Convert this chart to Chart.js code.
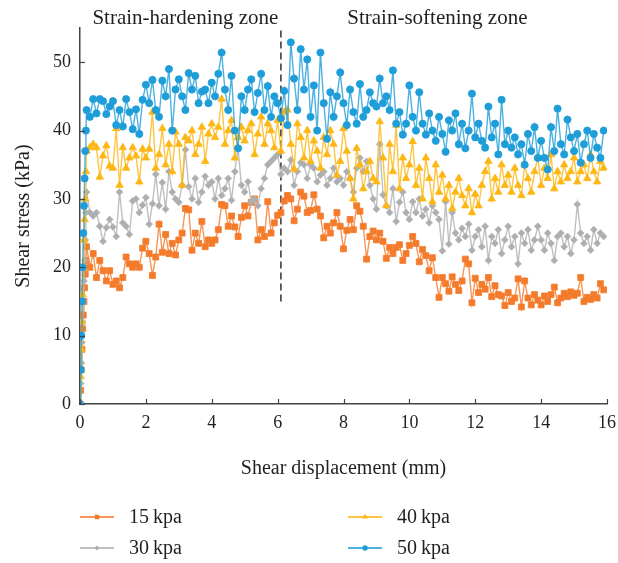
<!DOCTYPE html>
<html>
<head>
<meta charset="utf-8">
<script src="https://cdn.jsdelivr.net/npm/chart.js@4.4.1/dist/chart.umd.min.js"></script>
<style>
  html, body { margin: 0; padding: 0; background: #fff; }
  canvas { display: block; }
</style>
</head>
<body>
<canvas id="shearChart" width="618" height="563"></canvas>
<script>
// Shear stress vs shear displacement, four normal stresses

const displacement = [
  0, 0.02, 0.04, 0.06, 0.08, 0.1, 0.12, 0.14, 0.16, 0.18, 0.2,
  0.3, 0.4, 0.5, 0.6, 0.7, 0.8, 0.9,
  1, 1.1, 1.2, 1.3, 1.4, 1.5, 1.6, 1.7, 1.8, 1.9,
  2, 2.1, 2.2, 2.3, 2.4, 2.5, 2.6, 2.7, 2.8, 2.9,
  3, 3.1, 3.2, 3.3, 3.4, 3.5, 3.6, 3.7, 3.8, 3.9,
  4, 4.1, 4.2, 4.3, 4.4, 4.5, 4.6, 4.7, 4.8, 4.9,
  5, 5.1, 5.2, 5.3, 5.4, 5.5, 5.6, 5.7, 5.8, 5.9,
  6, 6.1, 6.2, 6.3, 6.4, 6.5, 6.6, 6.7, 6.8, 6.9,
  7, 7.1, 7.2, 7.3, 7.4, 7.5, 7.6, 7.7, 7.8, 7.9,
  8, 8.1, 8.2, 8.3, 8.4, 8.5, 8.6, 8.7, 8.8, 8.9,
  9, 9.1, 9.2, 9.3, 9.4, 9.5, 9.6, 9.7, 9.8, 9.9,
  10, 10.1, 10.2, 10.3, 10.4, 10.5, 10.6, 10.7, 10.8, 10.9,
  11, 11.1, 11.2, 11.3, 11.4, 11.5, 11.6, 11.7, 11.8, 11.9,
  12, 12.1, 12.2, 12.3, 12.4, 12.5, 12.6, 12.7, 12.8, 12.9,
  13, 13.1, 13.2, 13.3, 13.4, 13.5, 13.6, 13.7, 13.8, 13.9,
  14, 14.1, 14.2, 14.3, 14.4, 14.5, 14.6, 14.7, 14.8, 14.9,
  15, 15.1, 15.2, 15.3, 15.4, 15.5, 15.6, 15.7, 15.8, 15.9
];

const stress15 = [
  0, 2, 5, 8, 11, 13, 15, 17, 19, 21, 23,
  20, 22, 18.5, 21, 19.5, 18, 19.5,
  17.5, 18, 17, 18.5, 21.5, 20.5, 20, 20.5, 20, 22.8,
  23.8, 22, 18.8, 21.5, 26.3, 22.2, 24.8, 22, 23.5, 21.8,
  24, 25, 28.6, 28.4, 22.5, 25, 23.5, 26.7, 23, 24,
  23.5, 24, 25.5, 29.2, 29, 26, 27.5, 25.9, 24.5, 27.3,
  29, 27.5, 29.5, 30, 24, 25.5, 24.5, 29.6, 25, 26.5,
  27.6, 28, 29.7, 30.5, 30, 26.8, 28.5, 31, 30.4, 28,
  28.3, 30.6, 28.5, 27.5, 24.3, 26, 25, 26.5, 28, 26,
  22.7, 25.4, 27, 25.5, 29, 28.2, 26, 21.2, 24.5, 25.3,
  24, 25, 23.8, 21.3, 22.9, 22, 22.9, 23.3, 21, 22,
  23.2, 24.5, 23.5, 20.8, 22.6, 21.7, 19.5, 21.4, 18.5, 15.6,
  18.5, 17.6, 16.5, 18.6, 17.5, 16.6, 18, 21.2, 20.5, 14.8,
  18.4, 16.3, 17.5, 16.8, 18.5, 15.7, 17.3, 16, 15.8, 14.4,
  16.3, 15, 15.5, 18.3, 14.2, 18, 15.5, 14.5, 16, 15.2,
  14.5, 15.8, 15, 16, 17.1, 14.8, 15.5, 16.2, 15.7, 16.4,
  15.9, 16.2, 18.5, 15, 15.6, 15.3, 16, 15.5, 17.6, 16.7
];

const stress30 = [
  0, 3, 6, 9, 12, 15, 18, 21, 24, 28, 31,
  28, 27.5, 28, 26, 23.8, 25.8, 27,
  25.9, 24.5, 31, 26.5, 26, 24.8, 29.7, 30, 28, 29.1,
  30.2, 26.3, 29.3, 33.6, 29, 32.4, 28.5, 34, 31, 30,
  29.5, 32, 37.2, 31.8, 30, 33, 29.5, 31, 33.3, 32,
  32.5, 30, 33, 30.5, 31.5, 33, 29.8, 34, 37.4, 32,
  31, 32.5, 29.5, 30, 29, 31.5, 33, 35, 35.5, 36,
  36.5, 33.6, 34.5, 34, 35.7, 32, 34, 35.3, 35, 33,
  35, 34.5, 32.5, 33.5, 34, 32, 33, 34.5, 32.5, 33,
  32, 34, 33, 31, 34.5, 36, 34, 35.5, 32, 30,
  28.5, 38, 30.6, 29, 28, 31.5, 26.7, 29.5, 31, 28,
  27, 29.6, 28, 30, 27.5, 28.5, 26.5, 29, 28, 27,
  22.4, 29.6, 23.4, 28, 25, 24, 25.7, 24.5, 26.3, 22.5,
  24.5, 25.5, 23, 26, 21, 24.5, 23.5, 25.5, 22, 24,
  26, 23, 24.5, 20.5, 25, 23.5, 25.5, 22.5, 24, 26,
  24, 22.5, 25, 23.5, 21, 24.5, 25, 23, 24.5, 22,
  24, 29.2, 25, 23.5, 24.5, 22.5, 25.5, 23.5, 25, 24.5
];

const stress40 = [
  0, 4, 8, 12, 16, 20, 24, 27, 30, 34, 37,
  37.5, 38, 37.5, 33.2, 36.3, 37.8, 34.8,
  34.5, 40.3, 32, 37.5, 34.5, 36, 37.5, 36.3, 32.5, 37.3,
  36, 37.3, 42.7, 34.5, 36.5, 40.3, 35, 38, 34, 39.8,
  38, 32, 39, 38.5, 40, 36.5, 38, 40.5, 35.5, 39.5,
  41, 39, 40.5, 44.6, 38, 40, 41.5, 36, 39, 40.5,
  38.5, 40, 41, 36.5, 39.5, 42, 38, 41, 40, 37.5,
  41.5, 37, 42.7, 43, 38, 34.4, 41, 39, 36, 40,
  35.5, 38.5, 37, 34.5, 39, 36.5, 40, 38, 33.5, 35.5,
  40.3, 37, 33, 30, 37.4, 35, 31.5, 34, 35.5, 33,
  32.5, 41.3, 36, 29, 38, 34, 40.8, 31.5, 36, 33,
  35, 38.4, 32, 34.5, 30, 36, 33, 29.6, 35, 31,
  33.5, 30, 32, 28.6, 31, 33, 30.5, 29, 31.5, 28,
  30.7, 29, 32, 34, 35.5, 30, 33, 31, 35, 32,
  33.5, 31, 34.5, 32, 30.5, 35, 33, 31, 34, 36,
  32, 34.5, 33, 36.5, 31.5, 34, 32.5, 35, 33, 34,
  36, 32.5, 34, 35, 33, 36.5, 34, 32.5, 35.5, 34.5
];

const stress50 = [
  0, 5, 10, 15, 20, 25, 29, 33, 37, 40, 43,
  42, 44.6, 42.5, 44.6, 44.3, 42.4, 43.5,
  44.3, 40.8, 43, 40.6, 44.6, 42.7, 40.2, 43.1, 39.5, 44.5,
  46.7, 44, 47.4, 43, 42, 47.3, 45, 49, 40, 46,
  47.5, 45, 43, 48.4, 46, 48, 44, 45.7, 46, 44,
  47, 45, 48.3, 51.4, 46, 43, 48, 40, 37.4, 45,
  43, 46, 47.5, 42.7, 45.5, 48.3, 43, 46.5, 42, 45,
  44, 41.8, 45.8, 40.8, 52.9, 47.6, 43, 51.9, 46, 50.4,
  42, 46.6, 40, 51.4, 44, 38.8, 45.6, 42, 45, 48.5,
  44, 40.8, 46, 42.7, 41, 46.8, 42, 43, 45.6, 44,
  43.5, 47.6, 44, 45, 43, 48.8, 41, 42.7, 39.4, 41,
  46.6, 42, 40, 45.6, 41, 39.4, 42.5, 40, 38.5, 42,
  39.5, 36.9, 41.5, 40, 42.5, 38, 41, 37.4, 40, 45.4,
  39, 41, 38.5, 37.5, 43.5, 39, 41, 36.5, 44.5, 38,
  40, 37.5, 39, 36.5, 38, 35, 39.5, 37, 40.5, 36,
  38.5, 36, 34.3, 40.5, 37, 43.2, 38, 36.5, 41.6, 39,
  37, 39.5, 35.3, 38, 40, 36, 39.5, 37.5, 36, 40
];

const seriesNames = ["15\u2009kpa", "30\u2009kpa", "40\u2009kpa", "50\u2009kpa"];

// boundary between the two zones
const zoneBoundaryX = 6.1;
const zoneBoundaryY = [15, 55];
const zoneLabels = ["Strain-hardening zone", "Strain-softening zone"];
const zoneLabelX = [3.2, 10.85];

const serif = "'Liberation Serif', 'Times New Roman', serif";


function toPoints(ys){
    return ys.map((y, i) => ({ x: displacement[i], y: y }));
}


function series(label, ys, color, line, style, radius, order){
    return {
        label: label,
        data: toPoints(ys),
        borderColor: line,
        borderWidth: 1.4,
        pointStyle: style,
        pointRadius: radius,
        pointBackgroundColor: color,
        pointBorderColor: line,
        pointBorderWidth: 1,
        tension: 0,
        order: order
    };
}


const datasets = [
    series(seriesNames[0], stress15, "#F47B2B", "rgba(244,123,43,0.8)", "rect", 4.2, 3),
    series(seriesNames[1], stress30, "#ADAEB0", "rgba(180,181,183,0.85)", "rectRot", 3.4, 2),
    series(seriesNames[2], stress40, "#FDB714", "rgba(253,183,20,0.8)", "triangle", 4.3, 1),
    series(seriesNames[3], stress50, "#1E9DD8", "rgba(30,157,216,0.8)", "circle", 3.6, 0),
    {
        label: "boundary",
        data: zoneBoundaryY.map(y => ({ x: zoneBoundaryX, y: y })),
        borderColor: "#222",
        borderWidth: 1.4,
        borderDash: [7, 4],
        pointRadius: 0,
        order: 5
    }
];


// inward tick marks, zone captions and the legend
const extras = {
    id: "extras",
    afterDraw(chart){
        const ctx = chart.ctx;
        const area = chart.chartArea;
        const xs = chart.scales.x;
        const ys = chart.scales.y;

        ctx.save();
        ctx.strokeStyle = "#444";
        ctx.lineWidth = 1.2;
        xs.ticks.forEach(t => {
            const px = Math.round(xs.getPixelForValue(t.value)) + 0.5;
            ctx.beginPath();
            ctx.moveTo(px, area.bottom);
            ctx.lineTo(px, area.bottom - 5);
            ctx.stroke();
        });
        ys.ticks.forEach(t => {
            const py = Math.round(ys.getPixelForValue(t.value)) + 0.5;
            ctx.beginPath();
            ctx.moveTo(area.left, py);
            ctx.lineTo(area.left + 5, py);
            ctx.stroke();
        });

        ctx.fillStyle = "#231F20";
        ctx.font = "21px " + serif;
        ctx.textAlign = "center";
        ctx.textBaseline = "alphabetic";
        zoneLabels.forEach((txt, i) => {
            ctx.fillText(txt, xs.getPixelForValue(zoneLabelX[i]), area.top - 4);
        });

        // legend: two columns, 15/40 on the first row, 30/50 on the second
        const slots = [
            { ds: 0, col: 0, row: 0 },
            { ds: 2, col: 1, row: 0 },
            { ds: 1, col: 0, row: 1 },
            { ds: 3, col: 1, row: 1 }
        ];
        ctx.textAlign = "left";
        ctx.textBaseline = "middle";
        slots.forEach(s => {
            const d = chart.data.datasets[s.ds];
            const lx = 80 + s.col * 268;
            const ly = 517 + s.row * 31;
            ctx.strokeStyle = d.borderColor;
            ctx.lineWidth = 2;
            ctx.beginPath();
            ctx.moveTo(lx, ly);
            ctx.lineTo(lx + 34, ly);
            ctx.stroke();
            ctx.fillStyle = d.pointBackgroundColor;
            Chart.helpers.drawPoint(ctx, {
                pointStyle: d.pointStyle,
                radius: d.pointRadius * 0.75,
                rotation: 0,
                borderWidth: 0
            }, lx + 17, ly);
            ctx.fillStyle = "#231F20";
            ctx.font = "20px " + serif;
            ctx.fillText(d.label, lx + 49, ly + 1);
        });
        ctx.restore();
    }
};


new Chart(
    document.getElementById("shearChart"),
    {
        type: "line",
        data: { datasets: datasets },
        plugins: [extras],
        options: {
            responsive: false,
            animation: false,
            devicePixelRatio: 1,
            layout: { padding: { left: 0, top: 28, right: 11, bottom: 79 } },
            plugins: {
                legend: { display: false },
                tooltip: { enabled: false }
            },
            scales: {
                x: {
                    type: "linear",
                    min: 0,
                    max: 16,
                    ticks: {
                        stepSize: 2,
                        color: "#231F20",
                        padding: 8,
                        font: { family: serif, size: 18 }
                    },
                    grid: { display: false, drawTicks: false },
                    border: { display: true, color: "#444", width: 1.5 },
                    title: {
                        display: true,
                        text: "Shear displacement (mm)",
                        color: "#231F20",
                        padding: { top: 0, bottom: 3 },
                        font: { family: serif, size: 20 }
                    },
                    afterFit(scale){
                        scale.height = 80;
                        scale.paddingRight = 0;
                    }
                },
                y: {
                    min: 0,
                    max: 55,
                    ticks: {
                        stepSize: 10,
                        color: "#231F20",
                        padding: 9,
                        font: { family: serif, size: 18 }
                    },
                    afterBuildTicks(scale){
                        scale.ticks = scale.ticks.filter(t => t.value % 10 === 0);
                    },
                    grid: { display: false, drawTicks: false },
                    border: { display: true, color: "#444", width: 1.5 },
                    title: {
                        display: true,
                        text: "Shear stress (kPa)",
                        color: "#231F20",
                        padding: { top: 12, bottom: 0 },
                        font: { family: serif, size: 20 }
                    },
                    afterFit(scale){ scale.width = 80; }
                }
            }
        }
    }
);
</script>
</body>
</html>
